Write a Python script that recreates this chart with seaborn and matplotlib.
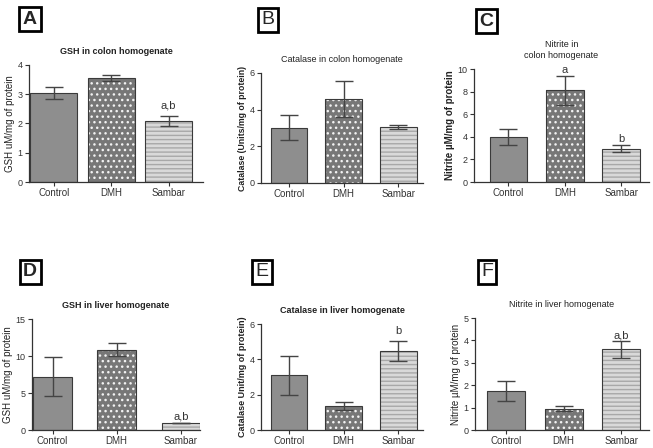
import matplotlib.pyplot as plt
import seaborn as sns
from matplotlib.patches import Rectangle

groups = ['Control', 'DMH', 'Sambar']

gsh_colon = [3.05, 3.57, 2.08]
gsh_colon_err = [0.2, 0.1, 0.18]
cat_colon = [3.02, 4.6, 3.05]
cat_colon_err = [0.7, 0.98, 0.13]
nit_colon = [4.0, 8.1, 2.95]
nit_colon_err = [0.7, 1.3, 0.3]
gsh_liver = [7.2, 10.85, 0.95]
gsh_liver_err = [2.65, 0.9, 0.05]
cat_liver = [3.1, 1.35, 4.47]
cat_liver_err = [1.1, 0.22, 0.58]
nit_liver = [1.75, 0.95, 3.6]
nit_liver_err = [0.45, 0.1, 0.38]

sns.set_style('ticks')
plt.rcParams['font.family'] = ['Liberation Sans', 'DejaVu Sans']

fills = ['#8e8e8e', '#777777', '#d9d9d9']
hatches = [None, '...', '----']
hatch_cols = [None, '#f2f2f2', '#a8a8a8']

# (letter, letter weight, rect, title, title weight, ylabel, ylabel weight,
#  ylabel size, values, errors, yticks, xlim, width, notes)
panels = [
    ('A', 'bold', [29, 65, 203, 182], 'GSH in colon homogenate', 'bold',
     'GSH uM/mg of protein', 'normal', 7, gsh_colon, gsh_colon_err,
     [0, 1, 2, 3, 4], (-0.43, 2.6), 0.82, {2: ('a,b', 2.45)}),
    ('B', 'normal', [261, 73, 423, 183], 'Catalase in colon homogenate', 'normal',
     'Catalase (Units/mg of protein)', 'bold', 6.3, cat_colon, cat_colon_err,
     [0, 2, 4, 6], (-0.51, 2.45), 0.67, {}),
    ('C', 'bold', [474, 69, 649, 182], 'Nitrite in\ncolon homogenate', 'normal',
     'Nitrite µM/mg of protein', 'bold', 7, nit_colon, nit_colon_err,
     [0, 2, 4, 6, 8, 10], (-0.61, 2.49), 0.67, {1: ('a', 9.5), 2: ('b', 3.35)}),
    ('D', 'bold', [32, 319, 200, 430], 'GSH in liver homogenate', 'bold',
     'GSH uM/mg of protein', 'normal', 7, gsh_liver, gsh_liver_err,
     [0, 5, 10, 15], (-0.32, 2.3), 0.6, {2: ('a,b', 1.2)}),
    ('E', 'normal', [261, 324, 423, 430], 'Catalase in liver homogenate', 'bold',
     'Catalase Unit/mg of protein)', 'bold', 6.5, cat_liver, cat_liver_err,
     [0, 2, 4, 6], (-0.51, 2.45), 0.67, {2: ('b', 5.3)}),
    ('F', 'normal', [475, 318, 649, 430], 'Nitrite in liver homogenate', 'normal',
     'Nitrite µM/mg of protein', 'normal', 7, nit_liver, nit_liver_err,
     [0, 1, 2, 3, 4, 5], (-0.54, 2.48), 0.66, {2: ('a,b', 4.0)}),
]

W, H = 653, 448
fig = plt.figure(figsize=(W / 100, H / 100), dpi=100)

for (letter, lw_letter, r, title, tw, ylab, yw, ys, vals, errs,
     yticks, xlim, width, notes) in panels:
    ax = fig.add_axes([r[0] / W, 1 - r[3] / H, (r[2] - r[0]) / W, (r[3] - r[1]) / H])
    sns.barplot(x=groups, y=vals, hue=groups, palette=fills, legend=False,
                width=width, errorbar=None, ax=ax, linewidth=0)
    for p, h, hc in zip(ax.patches, hatches, hatch_cols):
        if h:
            p.set_hatch(h)
            p.set_edgecolor(hc)
        ax.add_patch(Rectangle(p.get_xy(), p.get_width(), p.get_height(),
                               fill=False, ec='#3a3a3a', lw=0.8, zorder=3))
    ax.errorbar(range(len(groups)), vals, yerr=errs, fmt='none', ecolor='#444444',
                elinewidth=1, capsize=6.5, capthick=1, zorder=4)
    for i, (txt, y) in notes.items():
        ax.text(i, y, txt, ha='center', va='bottom', fontsize=8, color='#333333')
    ax.set_ylim(yticks[0], yticks[-1])
    ax.set_yticks(yticks)
    ax.set_xlim(*xlim)
    ax.set_title(title, fontsize=6.5, fontweight=tw, pad=8, color='#222222')
    ax.set_ylabel(ylab, fontsize=ys, fontweight=yw, labelpad=2, color='#222222')
    ax.tick_params(labelsize=6.5, length=3, width=0.8, pad=1.5, colors='#333333')
    ax.tick_params(axis='x', labelsize=7, pad=1)
    sns.despine(ax=ax)
    for s in ('left', 'bottom'):
        ax.spines[s].set_linewidth(0.9)
        ax.spines[s].set_color('#333333')

letter_pos = {'A': (30, 19), 'B': (267.5, 20), 'C': (486.5, 21),
              'D': (30, 272), 'E': (262, 271.5), 'F': (487, 272)}
for letter, lw_letter, *_ in panels:
    x, y = letter_pos[letter]
    fig.text(x / W, 1 - y / H, letter, fontsize=14, fontweight=lw_letter,
             ha='center', va='center',
             bbox=dict(boxstyle='square,pad=0.18', fc='white', ec='black', lw=2))

fig.savefig('out.png', dpi=100)
